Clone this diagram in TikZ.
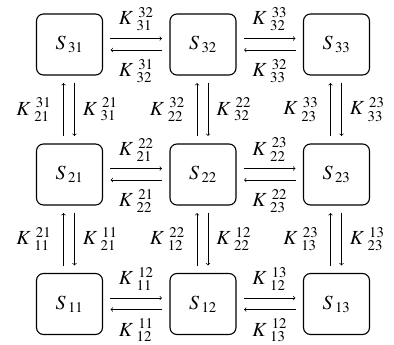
\documentclass[tikz,border=0pt]{standalone}
\usepackage{mathptmx}
\newcommand{\kk}[2]{{K}^{\mkern6mu #1}_{\mkern6mu #2}}
\begin{document}
\begin{tikzpicture}[x=1pt,y=1pt,
  state/.style={draw,line width=1.1pt,rounded corners=7pt,minimum width=66pt,minimum height=61pt,inner sep=0pt,font=\fontsize{20}{24}\selectfont},
  lab/.style={inner sep=0pt,font=\fontsize{20}{24}\selectfont},
  arr/.style={->,line width=0.7pt,shorten >=7.5pt,shorten <=7pt}]
\useasboundingbox (0,0) rectangle (394,-345);
\foreach \i/\y in {3/-44.5,2/-174.5,1/-304}{
  \foreach \j/\x in {1/69.5,2/203,3/336.5}{
    \node[state] (S\i\j) at (\x,\y) {$S_{\mkern3mu\i\j}$};
  }
}
% horizontal
\foreach \i in {1,2,3}{
  \foreach \j/\k in {1/2,2/3}{
    \draw[arr] ([yshift=6pt]S\i\j.east) -- node[lab,above=7pt] {$\kk{\i\k}{\i\j}$} ([yshift=6pt]S\i\k.west);
    \draw[arr] ([yshift=-5.5pt]S\i\k.west) -- node[lab,below=9pt] {$\kk{\i\j}{\i\k}$} ([yshift=-5.5pt]S\i\j.east);
  }
}
% vertical
\foreach \i/\h in {3/2,2/1}{
  \foreach \j in {1,2,3}{
    \draw[arr] ([xshift=-6pt]S\h\j.north) -- node[lab,left=12pt] {$\kk{\i\j}{\h\j}$} ([xshift=-6pt]S\i\j.south);
    \draw[arr] ([xshift=5pt]S\i\j.south) -- node[lab,right=8pt] {$\kk{\h\j}{\i\j}$} ([xshift=5pt]S\h\j.north);
  }
}
\end{tikzpicture}
\end{document}
